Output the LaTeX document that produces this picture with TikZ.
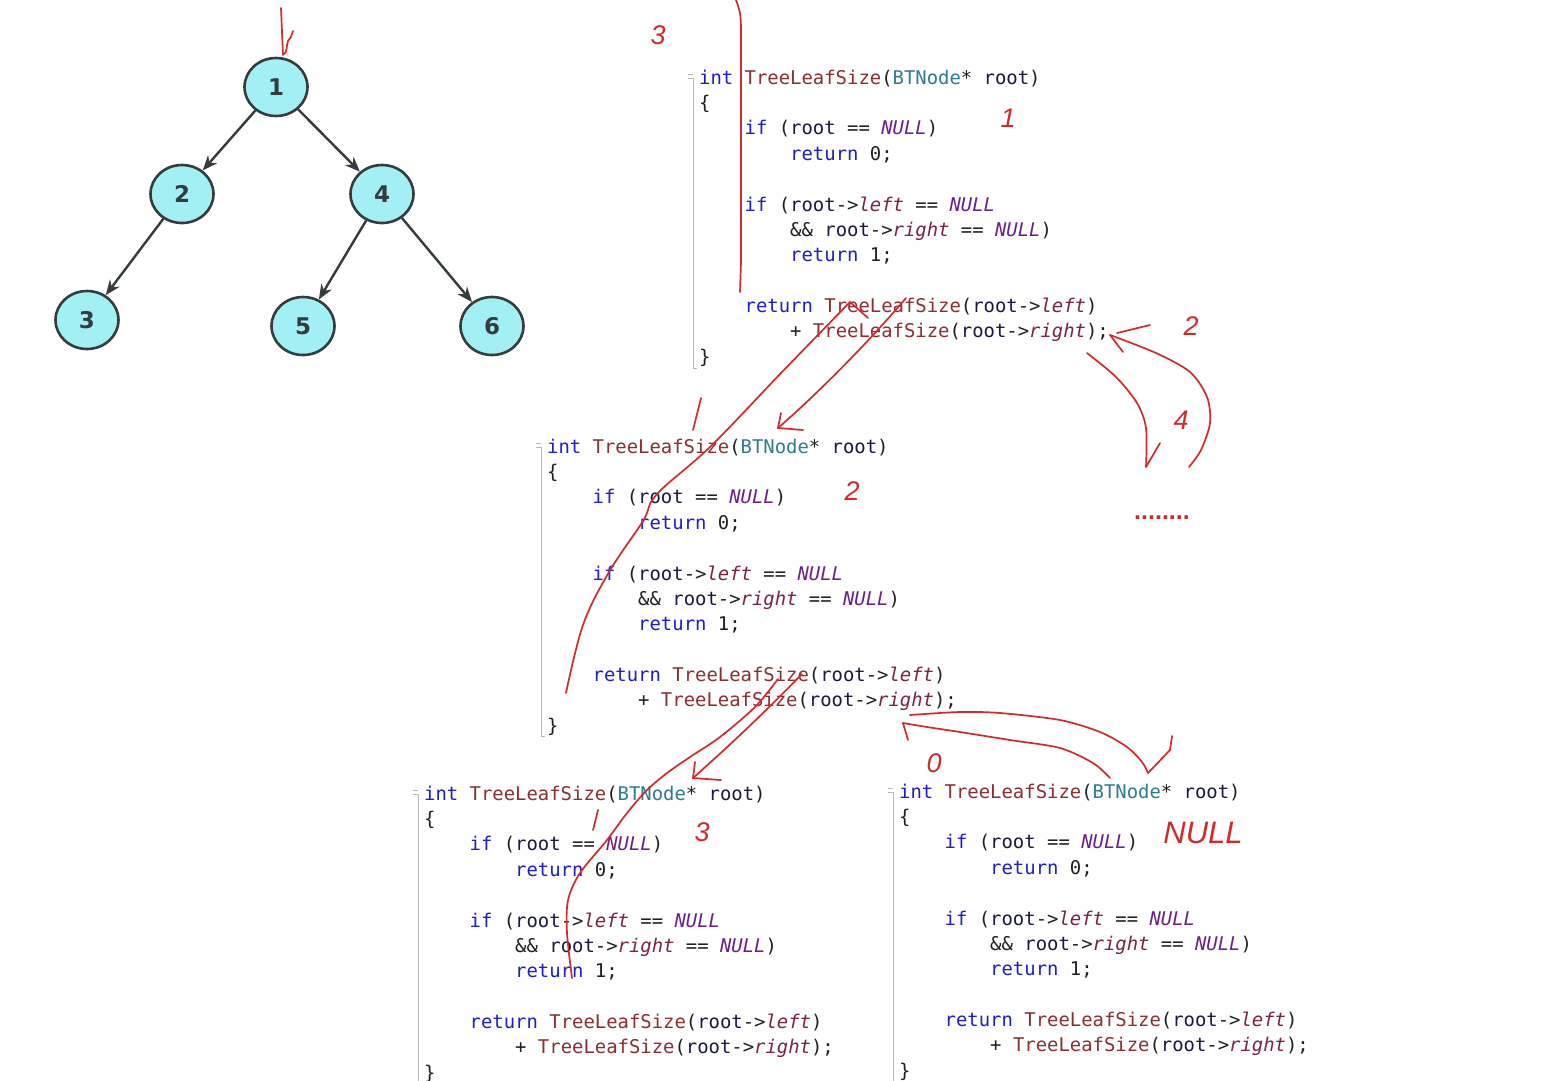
\documentclass[tikz,border=0pt]{standalone}
\usepackage{fontspec}
\setmonofont{DejaVu Sans Mono}
\newfontfamily\treefont{DejaVu Sans}
\newfontfamily\handfont{Liberation Sans}
\usetikzlibrary{arrows.meta,shapes.geometric}
\definecolor{kwc}{HTML}{1F1FC8}
\definecolor{fnc}{HTML}{8A3030}
\definecolor{tyc}{HTML}{2E7D8C}
\definecolor{rtc}{HTML}{1A1A40}
\definecolor{nulc}{HTML}{6A1F8A}
\definecolor{memc}{HTML}{7B2248}
\definecolor{penred}{HTML}{D42A2A}
\definecolor{nodefill}{HTML}{A2F0F3}
\definecolor{nodeline}{HTML}{353C3C}
\definecolor{gutterc}{HTML}{B8B8B8}
\newcommand\ckw[1]{\textcolor{kwc}{#1}}
\newcommand\cfn[1]{\textcolor{fnc}{#1}}
\newcommand\cty[1]{\textcolor{tyc}{#1}}
\newcommand\crt[1]{\textcolor{rtc}{#1}}
\newcommand\cnul{\textcolor{nulc}{\itshape NULL}}
\newcommand\cmem[1]{\textcolor{memc}{\itshape #1}}
\newcommand\codelines{%
\begin{tabular}{@{}l@{}}
\ckw{int} \cfn{TreeLeafSize}(\cty{BTNode}* \crt{root})\\
\{\\
\phantom{0000}\ckw{if} (\crt{root} == \cnul)\\
\phantom{00000000}\ckw{return} 0;\\
\mbox{}\\
\phantom{0000}\ckw{if} (\crt{root}->\cmem{left} == \cnul\\
\phantom{00000000}\&\& \crt{root}->\cmem{right} == \cnul)\\
\phantom{00000000}\ckw{return} 1;\\
\mbox{}\\
\phantom{0000}\ckw{return} \cfn{TreeLeafSize}(\crt{root}->\cmem{left})\\
\phantom{00000000}+ \cfn{TreeLeafSize}(\crt{root}->\cmem{right});\\
\}
\end{tabular}}
\tikzset{
  code/.style={anchor=north west, inner sep=0pt, text=black!88,
    font=\ttfamily\fontsize{18.9}{25.36}\selectfont},
  gutter/.style={draw=gutterc, line width=1pt},
  pen/.style={draw=penred, line width=1.7pt, line cap=round, line join=round},
  hand/.style={text=penred, inner sep=0pt, font=\handfont\itshape\fontsize{27}{27}\selectfont},
  tnode/.style={ellipse, draw=nodeline, line width=2.6pt, fill=nodefill,
    minimum width=63pt, minimum height=58pt, inner sep=0pt, text=nodeline,
    font=\treefont\bfseries\fontsize{23}{23}\selectfont},
  tedge/.style={draw=nodeline, line width=2.4pt, -{Stealth[length=15pt,width=12pt]}}
}
\begin{document}
\begin{tikzpicture}[x=1pt,y=-1pt]
\fill[white] (0,0) rectangle (1554,1080);
\useasboundingbox (0,0) rectangle (1554,1080);
\clip (0,0) rectangle (1554,1080);

% ---------------- tree ----------------
\node[tnode] (n1) at (276,87) {1};
\node[tnode] (n2) at (182,194) {2};
\node[tnode] (n4) at (382,194) {4};
\node[tnode] (n3) at (87,320) {3};
\node[tnode] (n5) at (303,326) {5};
\node[tnode] (n6) at (492,326) {6};
\draw[tedge] (n1) -- (n2);
\draw[tedge] (n1) -- (n4);
\draw[tedge] (n2) -- (n3);
\draw[tedge] (n4) -- (n5);
\draw[tedge] (n4) -- (n6);

% ---------------- code blocks ----------------
\node[code] (codeA) at (699,66.25) {\codelines};
\node[code] (codeB) at (547,435.25) {\codelines};
\node[code] (codeC) at (424,782.25) {\codelines};
\node[code] (codeD) at (899,780.25) {\codelines};

\foreach \gx/\gy/\gz in {693/78/368, 541/447/736, 418/794/1082, 893/792/1082}{
  \draw[gutter] (\gx,\gy) -- (\gx,\gz) -- (\gx+4,\gz);
  \draw[gutter] (\gx-5,\gy-4) -- (\gx,\gy-4);
  \draw[gutter] (\gx-5,\gy) -- (\gx,\gy);
}

% ---------------- red annotations ----------------
% entry arrow at the root
\coordinate (rs) at (281,8);
\coordinate (re) at (283,55);
\draw[pen] (rs) -- (re) .. controls (288,52) and (286,46) .. (288,41) .. controls (291,37) .. (293,31);

% long vertical stroke over block A
\draw[pen] (736,0) .. controls (741,14) .. (741,42) -- (741,262) -- (740,292);

% A -> B (left call)
\coordinate (aLs) at (906,298);
\coordinate (bIn) at (778,428);
\draw[pen] (aLs) .. controls (866,345) and (816,395) .. (bIn);
\draw[pen] (bIn) -- (803,430);
\draw[pen] (bIn) -- (781,413);

% B -> A (return)
\coordinate (bOut) at (566,693);
\coordinate (aLt) at (850,302);
\draw[pen] plot[smooth, tension=0.6] coordinates {(bOut) (583,625) (609,572) (643,521) (657,494) (711,446) (782,372) (aLt)};
\draw[pen] (aLt) -- (868,318);

% small tick above block B
\draw[pen] (701,398) -- (693,430);

% A: right call and return (4)
\coordinate (aR) at (1110,335);
\draw[pen] (1150,325) -- (1117,333);
\draw[pen] (aR) -- (1123,352);
\draw[pen] plot[smooth] coordinates {(aR) (1156,353) (1190,372) (1207,397) (1210,423) (1201,450) (1189,467)};
\coordinate (dotsIn) at (1146,467);
\draw[pen] plot[smooth] coordinates {(1087,353) (1116,377) (1137,403) (1146,428) (dotsIn)};
\draw[pen] (dotsIn) -- (1160,443);

% B -> C (left call)
\coordinate (bLs) at (802,674);
\coordinate (cIn) at (693,778);
\draw[pen] (bLs) .. controls (762,715) and (730,745) .. (cIn);
\draw[pen] (cIn) -- (721,780);
\draw[pen] (cIn) -- (695,762);

% C -> B (return)
\coordinate (cOut) at (572,978);
\coordinate (bLt) at (778,679);
\draw[pen] plot[smooth] coordinates {(cOut) (567,933) (568,900) (580,873) (607,840) (627,813) (647,790) (667,773) (690,757) (720,737) (755,707) (bLt)};

% small tick in block C
\draw[pen] (598,810) -- (593,830);

% B -> D (right call)
\coordinate (bRs) at (910,715);
\coordinate (dIn) at (1148,773);
\draw[pen] plot[smooth] coordinates {(bRs) (960,712) (1000,713) (1060,720) (1100,732) (1127,747) (1142,762) (dIn)};
\draw[pen] (dIn) -- (1170,750) -- (1172,736);

% D -> B (return)
\coordinate (dOut) at (1110,778);
\coordinate (bRt) at (903,723);
\draw[pen] plot[smooth] coordinates {(dOut) (1093,763) (1060,748) (1010,740) (960,732) (927,727) (bRt)};
\draw[pen] (bRt) .. controls (905,731) .. (908,740);

% handwritten labels
\node[hand] (t3a) at (658,35) {3};
\node[hand] (t1) at (1008,118) {1};
\node[hand] (t2a) at (1191,326) {2};
\node[hand] (t4) at (1181,420) {4};
\node[hand] (t2b) at (852,491) {2};
\node[hand] (t3b) at (702,832) {3};
\node[hand] (t0) at (934,763) {0};
\node[hand, font=\handfont\itshape\fontsize{31}{31}\selectfont] (tnull) at (1203,833) {NULL};
\node[text=penred, inner sep=0pt, font=\handfont\bfseries\fontsize{25}{25}\selectfont] (tdots) at (1162,518) {........};
\end{tikzpicture}
\end{document}
